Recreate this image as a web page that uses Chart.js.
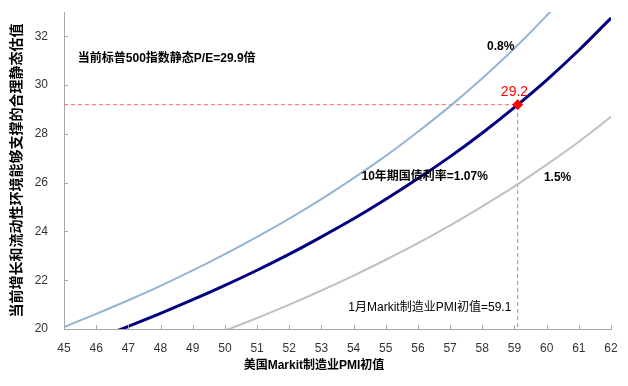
<!DOCTYPE html>
<html>
<head>
<meta charset="utf-8">
<script src="https://cdn.jsdelivr.net/npm/chart.js@4.4.1/dist/chart.umd.min.js"></script>
<style>
  body { margin: 0; background: #fff; }
</style>
</head>
<body>
<canvas id="pechart" width="628" height="386"></canvas>
<script>
// Start Data
const pmi = [45, 46, 47, 48, 49, 50, 51, 52, 53, 54, 55, 56, 57, 58, 59, 60, 61, 62];
// P/E under different 10y yields
const pe08 = [20.08, 20.62, 21.18, 21.77, 22.40, 23.07, 23.78, 24.53, 25.33, 26.19, 27.10, 28.09, 29.14, 30.28, 31.51, 32.85, 34.30, 35.89];
const pe107 = [19.12, 19.60, 20.11, 20.64, 21.20, 21.79, 22.41, 23.07, 23.78, 24.52, 25.32, 26.17, 27.07, 28.04, 29.09, 30.21, 31.43, 32.75];
const pe15 = [17.68, 18.09, 18.51, 18.96, 19.43, 19.93, 20.45, 21.00, 21.58, 22.19, 22.84, 23.52, 24.25, 25.03, 25.85, 26.74, 27.68, 28.70];
const yTicks = [20, 22, 24, 26, 28, 30, 32];
const curPmi = 59.1;
const curPe = 29.2;
// End Data

function toPoints(vals) {
  return vals.map((v, i) => ({ x: pmi[i], y: v }));
}

const cjk = '"Liberation Sans", "Noto Sans CJK SC", sans-serif';

// text notes, anchored in data units
const notes = [
  { text: '当前标普500指数静态P/E=29.9倍', x: 45.43, y: 31.1, font: 'bold 12px ' + cjk, color: '#000', align: 'left' },
  { text: '0.8%', x: 58.57, y: 31.56, font: 'bold 12px ' + cjk, color: '#000', align: 'center' },
  { text: '29.2', x: curPmi - 0.1, y: 29.71, font: '14px ' + cjk, color: '#ff0000', align: 'center' },
  { text: '10年期国债利率=1.07%', x: 56.21, y: 26.24, font: 'bold 12px ' + cjk, color: '#000', align: 'center' },
  { text: '1.5%', x: 60.34, y: 26.19, font: 'bold 12px ' + cjk, color: '#000', align: 'center' },
  { text: '1月Markit制造业PMI初值=59.1', x: 56.37, y: 20.87, font: '12px ' + cjk, color: '#000', align: 'center' }
];

// Start Notes Plugin
const notesPlugin = {
  id: 'notes',
  afterLayout(chart) {
    // center the bottom title on the whole canvas
    if (chart.titleBlock) chart.titleBlock.right = chart.width;
  },
  afterDatasetsDraw(chart) {
    const { ctx, scales: { x, y } } = chart;
    ctx.save();
    // tick marks pointing into the plot
    ctx.strokeStyle = '#a6a6a6';
    ctx.lineWidth = 1;
    ctx.beginPath();
    x.ticks.forEach(t => {
      const px = Math.round(x.getPixelForValue(t.value)) + 0.5;
      ctx.moveTo(px, y.bottom);
      ctx.lineTo(px, y.bottom - 4);
    });
    y.ticks.forEach(t => {
      const py = Math.round(y.getPixelForValue(t.value)) + 0.5;
      ctx.moveTo(x.left, py);
      ctx.lineTo(x.left + 4, py);
    });
    ctx.stroke();

    ctx.textBaseline = 'middle';
    notes.forEach(n => {
      ctx.font = n.font;
      ctx.fillStyle = n.color;
      ctx.textAlign = n.align;
      ctx.fillText(n.text, x.getPixelForValue(n.x), y.getPixelForValue(n.y));
    });
    ctx.restore();
  }
};
// End Notes Plugin

const ctx = document.getElementById('pechart');

new Chart(ctx, {
  type: 'line',
  data: {
    datasets: [
      {
        data: [{ x: curPmi, y: curPe }],
        pointStyle: 'rectRot',
        pointRadius: 5,
        backgroundColor: '#ff0000',
        borderColor: '#ff0000',
        showLine: false,
        order: 0
      },
      {
        data: toPoints(pe08),
        borderColor: '#95b3d7',
        borderWidth: 2,
        pointRadius: 0,
        cubicInterpolationMode: 'monotone',
        order: 1
      },
      {
        data: toPoints(pe107),
        borderColor: '#000080',
        borderWidth: 3,
        pointRadius: 0,
        cubicInterpolationMode: 'monotone',
        order: 1
      },
      {
        data: toPoints(pe15),
        borderColor: '#c0c0c0',
        borderWidth: 2,
        pointRadius: 0,
        cubicInterpolationMode: 'monotone',
        order: 1
      },
      {
        data: [{ x: pmi[0], y: curPe }, { x: curPmi, y: curPe }, { x: curPmi, y: yTicks[0] }],
        borderColor: '#ff6666',
        borderWidth: 1,
        borderDash: [4, 3],
        pointRadius: 0,
        tension: 0,
        order: 2
      }
    ]
  },
  options: {
    responsive: false,
    animation: false,
    events: [],
    layout: { padding: { top: 12, right: 17, left: 0, bottom: 0 } },
    plugins: {
      legend: { display: false },
      tooltip: { enabled: false },
      title: {
        display: true,
        position: 'bottom',
        text: '美国Markit制造业PMI初值',
        color: '#000',
        font: { size: 12, weight: 'bold', family: cjk },
        padding: { top: 4, bottom: 13 }
      }
    },
    scales: {
      x: {
        type: 'linear',
        min: 45,
        max: 62,
        grid: { display: false },
        border: { display: true, color: '#a6a6a6', width: 1 },
        ticks: {
          stepSize: 1,
          padding: 4,
          color: '#333',
          font: { size: 12, family: '"Liberation Sans", Arial, sans-serif' }
        },
        afterFit(scale) { scale.height = 25.6; }
      },
      y: {
        min: 20,
        max: 33,
        grid: { display: false },
        border: { display: true, color: '#a6a6a6', width: 1 },
        ticks: {
          padding: 8,
          color: '#333',
          font: { size: 12, family: '"Liberation Sans", Arial, sans-serif' }
        },
        afterBuildTicks(scale) {
          scale.ticks = yTicks.map(v => ({ value: v }));
        },
        title: {
          display: true,
          text: '当前增长和流动性环境能够支撑的合理静态估值',
          color: '#000',
          font: { size: 14, weight: 'bold', family: cjk },
          padding: { top: 9, bottom: 0 }
        },
        afterFit(scale) {
          scale.width = 64;
          scale.paddingTop = 0;
          scale.paddingBottom = 0;
        }
      }
    }
  },
  plugins: [notesPlugin]
});
</script>
</body>
</html>
